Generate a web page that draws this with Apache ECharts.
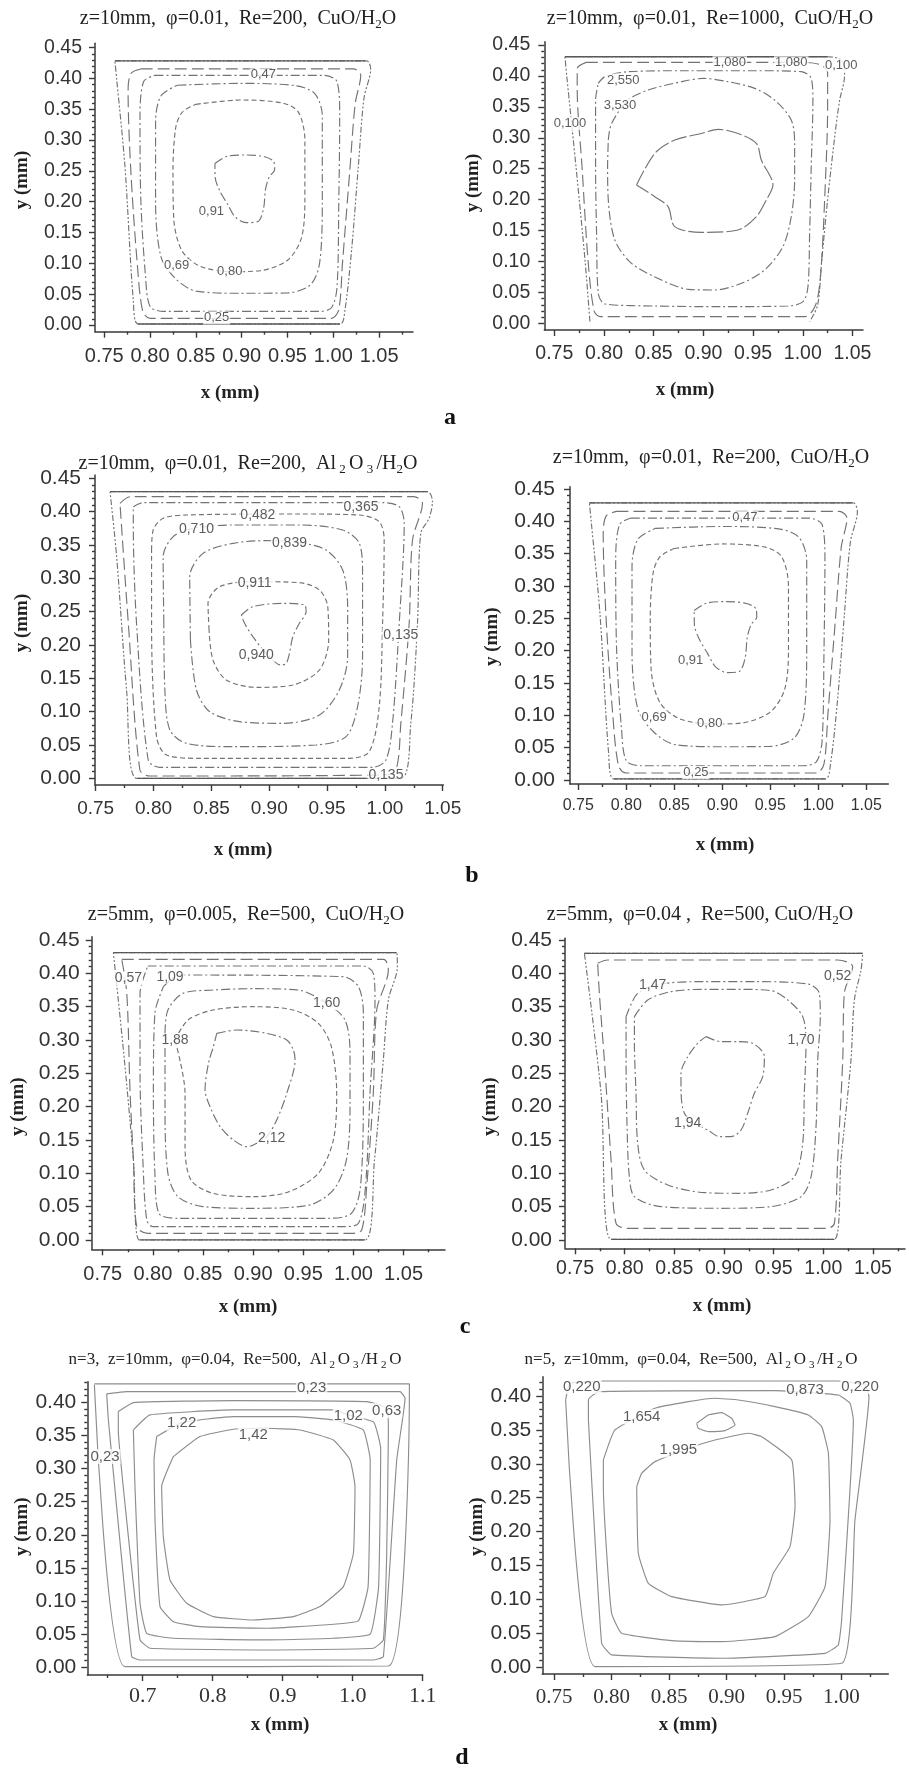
<!DOCTYPE html>
<html><head><meta charset="utf-8">
<script src="https://cdn.jsdelivr.net/npm/echarts@6.0.0/dist/echarts.min.js"></script>
<style>html,body{margin:0;padding:0;background:#fff}#chart{width:909px;height:1768px}</style>
</head><body><div id="chart"></div>
<script>
// ---------------- DATA (x mm, y mm) ----------------
// Tick labels
const X_TICKS_A = [0.75, 0.80, 0.85, 0.90, 0.95, 1.00, 1.05];
const X_TICKS_N5 = [0.75, 0.80, 0.85, 0.90, 0.95, 1.00];
const X_TICKS_N3 = [0.7, 0.8, 0.9, 1.0, 1.1];
const Y_TICKS_45 = [0.00, 0.05, 0.10, 0.15, 0.20, 0.25, 0.30, 0.35, 0.40, 0.45];
const Y_TICKS_40 = [0.00, 0.05, 0.10, 0.15, 0.20, 0.25, 0.30, 0.35, 0.40];

// Panel: z=10mm, phi=0.01, Re=200, CuO/H2O (a-left and b-right)
const cuo200_wallTop = [[0.7616,0.4284],[1.0364,0.4284]];
const cuo200_wallBottom = [[0.7871,0.0016],[1.0073,0.0016]];
const cuo200_c1 = [[0.7616,0.4284],[1.0364,0.4284],[1.0408,0.415],[1.0335,0.368],[1.0273,0.257],[1.020,0.122],[1.0127,0.024],[1.0073,0.0016],[0.7871,0.0016],[0.7817,0.04],[0.7726,0.257],[0.7635,0.40],[0.7616,0.4284]];
const cuo200_c025 = [[0.790,0.4154],[1.022,0.4154],[1.030,0.405],[1.024,0.36],[1.018,0.25],[1.010,0.10],[1.006,0.025],[0.998,0.0108],[0.800,0.0108],[0.792,0.022],[0.786,0.10],[0.779,0.25],[0.776,0.38],[0.779,0.408],[0.790,0.4154]];
const cuo200_c047 = [[0.805,0.405],[0.990,0.405],[1.004,0.395],[1.007,0.34],[1.006,0.20],[1.004,0.06],[0.998,0.028],[0.985,0.022],[0.815,0.022],[0.800,0.03],[0.795,0.08],[0.790,0.20],[0.789,0.34],[0.793,0.395],[0.805,0.405]];
const cuo200_c069 = [[0.830,0.389],[0.900,0.392],[0.960,0.388],[0.980,0.375],[0.988,0.34],[0.988,0.20],[0.985,0.10],[0.975,0.065],[0.950,0.052],[0.900,0.0514],[0.850,0.055],[0.828,0.075],[0.812,0.11],[0.806,0.20],[0.806,0.33],[0.812,0.372],[0.830,0.389]];
const cuo200_c080 = [[0.850,0.358],[0.900,0.365],[0.945,0.360],[0.962,0.345],[0.969,0.300],[0.969,0.200],[0.965,0.140],[0.950,0.105],[0.920,0.088],[0.890,0.0865],[0.855,0.095],[0.835,0.120],[0.826,0.170],[0.825,0.250],[0.828,0.320],[0.835,0.345],[0.850,0.358]];
const cuo200_c091 = [[0.8708,0.262],[0.885,0.274],[0.905,0.2758],[0.925,0.273],[0.935,0.265],[0.936,0.252],[0.930,0.240],[0.926,0.220],[0.924,0.190],[0.918,0.168],[0.905,0.166],[0.893,0.175],[0.885,0.195],[0.876,0.218],[0.871,0.240],[0.8708,0.262]];
const cuo200_labels = [[0.9236,0.4057,'0,47'],[0.8726,0.0115,'0,25'],[0.829,0.0960,'0,69'],[0.887,0.0875,'0,80'],[0.867,0.185,'0,91']];

// Panel: z=10mm, phi=0.01, Re=1000, CuO/H2O
const cuo1000_wallTop = [[0.7607,0.4311],[1.025,0.4311]];
const cuo1000_c0100 = [[0.7858,0.003],[0.781,0.10],[0.772,0.25],[0.7625,0.40],[0.7607,0.4311],[1.025,0.4311],[1.040,0.424],[1.042,0.40],[1.037,0.36],[1.032,0.30],[1.025,0.20],[1.019,0.10],[1.015,0.03],[1.007,0.003]];
const cuo1000_c1080 = [[0.782,0.422],[1.000,0.422],[1.018,0.418],[1.025,0.405],[1.025,0.35],[1.022,0.20],[1.018,0.08],[1.013,0.03],[1.002,0.0108],[0.796,0.0108],[0.790,0.02],[0.784,0.10],[0.778,0.25],[0.773,0.38],[0.773,0.412],[0.782,0.422]];
const cuo1000_c2550 = [[0.7942,0.388],[0.8009,0.3988],[0.8243,0.4069],[0.8846,0.4085],[0.9516,0.4085],[0.9985,0.4069],[1.0085,0.3961],[1.0102,0.3611],[1.0085,0.2533],[1.0069,0.1455],[1.0052,0.0593],[1.0002,0.035],[0.9851,0.028],[0.9181,0.0269],[0.8511,0.028],[0.8009,0.0313],[0.7942,0.0485],[0.7925,0.1455],[0.7915,0.2533],[0.7915,0.3611],[0.7942,0.388]];
const cuo1000_c3530 = [[0.8043,0.2964],[0.8076,0.3233],[0.8243,0.361],[0.8444,0.3772],[0.8779,0.3907],[0.8997,0.3961],[0.9248,0.3907],[0.9516,0.3799],[0.9717,0.361],[0.9884,0.3287],[0.9918,0.291],[0.9918,0.2533],[0.9918,0.2317],[0.9884,0.1724],[0.98,0.124],[0.9616,0.0862],[0.9382,0.0647],[0.9114,0.0539],[0.8846,0.055],[0.8578,0.0701],[0.8277,0.097],[0.8109,0.1347],[0.8043,0.1994],[0.8036,0.2533],[0.8043,0.2964]];
const cuo1000_cIn = [[0.8327,0.2236],[0.8511,0.2748],[0.8712,0.2964],[0.898,0.307],[0.915,0.3137],[0.9349,0.307],[0.9533,0.291],[0.9583,0.264],[0.970,0.2236],[0.9633,0.1994],[0.9533,0.1724],[0.9349,0.1509],[0.898,0.147],[0.8712,0.1563],[0.8645,0.1886],[0.8511,0.2048],[0.8327,0.2236]];
const cuo1000_labels = [[0.9265,0.4214,'1,080'],[0.9884,0.4214,'1,080'],[1.0387,0.4177,'0,100'],[0.7657,0.3233,'0,100'],[0.8193,0.3934,'2,550'],[0.816,0.353,'3,530']];

// Panel: z=10mm, phi=0.01, Re=200, Al2O3/H2O
const al200_wallTop = [[0.7624,0.43],[1.0368,0.43]];
const al200_wallBottom = [[0.7853,0.0],[1.0138,0.0]];
const al200_c1 = [[0.7624,0.43],[1.0368,0.43],[1.0411,0.415],[1.0382,0.39],[1.031,0.3675],[1.0282,0.2325],[1.0224,0.0825],[1.0138,0.0],[0.7853,0.0],[0.7767,0.1325],[0.7681,0.3325],[0.7624,0.43]];
const al200_c0135 = [[0.771,0.4125],[0.780,0.4225],[1.025,0.4225],[1.0325,0.4125],[1.0239,0.3575],[1.021,0.2325],[1.0138,0.0825],[1.0095,0.0125],[0.998,0.005],[0.7968,0.0035],[0.7882,0.0125],[0.7782,0.2325],[0.771,0.4125]];
const al200_c0365 = [[0.7825,0.4075],[0.7911,0.4135],[0.998,0.4135],[1.0124,0.4075],[1.0167,0.3825],[1.0124,0.2325],[1.0066,0.0825],[1.0009,0.0275],[0.9894,0.0165],[0.8055,0.0165],[0.7954,0.0275],[0.7853,0.2325],[0.7825,0.3825],[0.7825,0.4075]];
const al200_c0482 = [[0.7983,0.3425],[0.7997,0.3725],[0.8083,0.39],[0.8284,0.395],[0.9261,0.3965],[0.9779,0.395],[0.9951,0.385],[0.9994,0.3575],[0.998,0.2325],[0.9951,0.1075],[0.9865,0.04],[0.9693,0.03],[0.8399,0.03],[0.8112,0.035],[0.8026,0.0625],[0.7983,0.2325],[0.7983,0.3425]];
const al200_c0710 = [[0.8089,0.2325],[0.8083,0.3325],[0.817,0.3625],[0.8342,0.375],[0.8687,0.38],[0.9261,0.38],[0.9635,0.3725],[0.9779,0.3525],[0.9807,0.3075],[0.9807,0.1825],[0.9764,0.1075],[0.9664,0.0625],[0.9405,0.05],[0.8687,0.0475],[0.8284,0.0525],[0.8141,0.0725],[0.8098,0.1325],[0.8089,0.2325]];
const al200_c0839 = [[0.8319,0.2075],[0.8313,0.3025],[0.8428,0.3375],[0.8687,0.3525],[0.8974,0.3565],[0.9261,0.3535],[0.9491,0.3425],[0.9635,0.3125],[0.9678,0.2575],[0.9678,0.1825],[0.9606,0.1325],[0.9434,0.095],[0.9118,0.0825],[0.8744,0.085],[0.8486,0.1],[0.8371,0.1325],[0.8319,0.2075]];
const al200_c0911 = [[0.848,0.2225],[0.8471,0.2625],[0.8572,0.2875],[0.8859,0.295],[0.9261,0.2935],[0.9434,0.2825],[0.9506,0.2575],[0.9514,0.2075],[0.9434,0.1625],[0.9204,0.14],[0.8888,0.1365],[0.8629,0.1475],[0.8514,0.1775],[0.848,0.2225]];
const al200_c0940 = [[0.8759,0.245],[0.8859,0.2575],[0.9118,0.2625],[0.9305,0.26],[0.9319,0.25],[0.9261,0.2325],[0.9204,0.2125],[0.9175,0.1875],[0.9147,0.1725],[0.9103,0.17],[0.8974,0.1875],[0.8859,0.2125],[0.8787,0.2325],[0.8759,0.245]];
const al200_labels = [[0.9793,0.4075,'0,365'],[0.8902,0.395,'0,482'],[0.8371,0.3735,'0,710'],[0.9175,0.3525,'0,839'],[0.8874,0.2935,'0,911'],[0.8888,0.185,'0,940'],[1.0138,0.215,'0,135'],[1.0009,0.005,'0,135']];

// Panel: z=5mm, phi=0.005, Re=500, CuO/H2O
const cuo500a_wallTop = [[0.7606,0.431],[1.0431,0.431]];
const cuo500a_wallBottom = [[0.7866,0.0],[1.0115,0.0]];
const cuo500a_c1 = [[0.7606,0.431],[1.0431,0.431],[1.0438,0.41],[1.0348,0.36],[1.0298,0.27],[1.021,0.12],[1.0115,0.0],[0.7866,0.0],[0.7806,0.12],[0.7716,0.27],[0.7606,0.431]];
const cuo500a_c057 = [[0.769,0.421],[1.030,0.421],[1.0348,0.405],[1.0232,0.345],[1.0198,0.22],[1.0132,0.08],[1.0082,0.015],[0.998,0.01],[0.795,0.01],[0.7839,0.02],[0.7806,0.12],[0.7773,0.22],[0.774,0.37],[0.769,0.421]];
const cuo500a_cX = [[0.795,0.411],[1.010,0.411],[1.0198,0.40],[1.0215,0.36],[1.0165,0.22],[1.012,0.08],[1.005,0.025],[0.99,0.02],[0.80,0.02],[0.7939,0.03],[0.790,0.12],[0.7872,0.25],[0.7872,0.37],[0.795,0.411]];
const cuo500a_c109 = [[0.8105,0.38],[0.8271,0.3975],[0.99,0.395],[1.005,0.38],[1.0099,0.34],[1.0099,0.22],[1.007,0.08],[0.998,0.04],[0.975,0.0325],[0.825,0.0325],[0.806,0.04],[0.802,0.10],[0.8005,0.22],[0.802,0.34],[0.8105,0.38]];
const cuo500a_c160 = [[0.8121,0.31],[0.815,0.345],[0.830,0.37],[0.860,0.375],[0.90,0.377],[0.945,0.375],[0.9733,0.355],[0.9916,0.33],[0.9966,0.28],[0.9966,0.20],[0.993,0.12],[0.980,0.075],[0.955,0.052],[0.90,0.0475],[0.850,0.05],[0.825,0.065],[0.815,0.10],[0.8121,0.20],[0.8121,0.31]];
const cuo500a_c188 = [[0.8221,0.30],[0.835,0.33],[0.860,0.345],[0.90,0.35],[0.94,0.345],[0.965,0.325],[0.978,0.29],[0.9833,0.22],[0.98,0.15],[0.965,0.10],[0.935,0.072],[0.90,0.065],[0.86,0.07],[0.838,0.09],[0.8321,0.14],[0.8321,0.22],[0.8221,0.30]];
const cuo500a_c212 = [[0.8637,0.31],[0.8836,0.315],[0.9135,0.31],[0.9335,0.30],[0.9401,0.285],[0.9418,0.27],[0.9335,0.22],[0.9235,0.18],[0.9135,0.155],[0.9002,0.1425],[0.8936,0.14],[0.8803,0.15],[0.867,0.17],[0.857,0.20],[0.852,0.225],[0.8554,0.265],[0.8603,0.29],[0.8637,0.31]];
const cuo500a_labels = [[0.7756,0.3925,'0,57'],[0.8171,0.395,'1,09'],[0.9733,0.355,'1,60'],[0.8221,0.30,'1,88'],[0.9185,0.1525,'2,12']];

// Panel: z=5mm, phi=0.04, Re=500, CuO/H2O
const cuo500b_wallTop = [[0.7594,0.43],[1.0397,0.43]];
const cuo500b_wallBottom = [[0.7863,0.001],[1.0112,0.001]];
const cuo500b_c1 = [[0.7594,0.43],[1.0397,0.43],[1.038,0.405],[1.0313,0.36],[1.0279,0.27],[1.0179,0.12],[1.0112,0.001],[0.7863,0.001],[0.7762,0.22],[0.7594,0.43]];
const cuo500b_c052 = [[0.7728,0.415],[0.7829,0.42],[1.0145,0.42],[1.0296,0.41],[1.0212,0.37],[1.0196,0.27],[1.0145,0.12],[1.0112,0.025],[1.0045,0.0175],[0.803,0.0175],[0.7913,0.025],[0.7863,0.12],[0.7795,0.27],[0.7745,0.37],[0.7728,0.415]];
const cuo500b_c147 = [[0.8014,0.335],[0.8131,0.37],[0.8366,0.384],[0.8802,0.3875],[0.9306,0.3875],[0.9843,0.384],[0.996,0.37],[0.997,0.335],[0.9944,0.27],[0.9927,0.17],[0.9877,0.095],[0.9776,0.065],[0.9474,0.05],[0.897,0.0475],[0.8366,0.05],[0.8098,0.065],[0.8047,0.095],[0.8024,0.17],[0.8014,0.27],[0.8014,0.335]];
const cuo500b_c170 = [[0.8098,0.335],[0.8232,0.36],[0.8467,0.3725],[0.8802,0.376],[0.9138,0.376],[0.9474,0.374],[0.9642,0.36],[0.9793,0.335],[0.9826,0.295],[0.9809,0.22],[0.9793,0.145],[0.9709,0.095],[0.9474,0.075],[0.9138,0.07],[0.8802,0.071],[0.8433,0.0825],[0.8198,0.105],[0.8131,0.145],[0.8114,0.22],[0.8098,0.295],[0.8098,0.335]];
const cuo500b_c194 = [[0.8819,0.305],[0.897,0.2975],[0.9138,0.2975],[0.9289,0.295],[0.9407,0.275],[0.939,0.245],[0.9306,0.22],[0.9239,0.19],[0.9172,0.165],[0.9071,0.155],[0.8954,0.155],[0.8836,0.165],[0.8702,0.175],[0.8601,0.19],[0.8567,0.225],[0.8567,0.25],[0.8635,0.275],[0.8735,0.295],[0.8819,0.305]];
const cuo500b_labels = [[0.8282,0.3825,'1,47'],[1.0145,0.395,'0,52'],[0.9776,0.30,'1,70'],[0.8635,0.175,'1,94']];

// Panel: n=3, z=10mm, phi=0.04, Re=500, Al2O3/H2O
const n3_l1 = [[0.631,0.4277],[1.081,0.4277],[1.081,0.4211],[1.051,0.002],[0.6748,0.001],[0.631,0.4262]];
const n3_l023 = [[0.6486,0.4126],[0.6771,0.4161],[1.0676,0.4161],[1.0748,0.406],[1.0629,0.313],[1.0438,0.0161],[1.0295,0.0111],[0.6962,0.0111],[0.6843,0.0161],[0.651,0.3733],[0.6486,0.4126]];
const n3_l063 = [[0.6652,0.3859],[0.6867,0.3995],[0.8295,0.4025],[1.02,0.401],[1.0486,0.391],[1.051,0.3582],[1.0486,0.1721],[1.0438,0.0413],[1.0295,0.0287],[0.8771,0.0262],[0.7105,0.0287],[0.6962,0.0413],[0.6771,0.2224],[0.6652,0.3582],[0.6652,0.3859]];
const n3_l102 = [[0.6867,0.3582],[0.7105,0.3809],[0.8295,0.3884],[0.9724,0.3884],[0.9938,0.3809],[1.03,0.37],[1.04,0.33],[1.037,0.1218],[1.025,0.05],[0.9724,0.0438],[0.8771,0.0413],[0.7438,0.0438],[0.7057,0.0513],[0.6962,0.0966],[0.689,0.2727],[0.6867,0.3582]];
const n3_l122 = [[0.72,0.3482],[0.7557,0.3693],[0.8295,0.3784],[0.9152,0.3784],[0.9724,0.3733],[1.015,0.3582],[1.025,0.313],[1.022,0.1218],[1.008,0.07],[0.9581,0.0639],[0.8771,0.0589],[0.7819,0.0614],[0.7438,0.0689],[0.7248,0.0916],[0.7176,0.2224],[0.7162,0.313],[0.72,0.3482]];
const n3_l142 = [[0.7438,0.318],[0.7819,0.3482],[0.8295,0.3592],[0.8771,0.3608],[0.9248,0.3582],[0.9724,0.3431],[0.9962,0.313],[1.0033,0.2727],[1.001,0.1721],[0.9867,0.1218],[0.9533,0.0916],[0.9152,0.0765],[0.8581,0.0714],[0.801,0.0765],[0.7629,0.0966],[0.739,0.1318],[0.7295,0.1972],[0.7271,0.2727],[0.7438,0.318]];
const n3_labels = [[0.9414,0.4211,'0,23'],[0.6462,0.318,'0,23'],[1.0486,0.3874,'0,63'],[0.9938,0.3794,'1,02'],[0.7557,0.3683,'1,22'],[0.8581,0.3507,'1,42']];

// Panel: n=5, z=10mm, phi=0.04, Re=500, Al2O3/H2O
const n5_l0220 = [[0.7601,0.3941],[0.7639,0.4187],[0.7914,0.4221],[0.9972,0.4221],[1.0204,0.4162],[1.0239,0.399],[1.0117,0.2172],[1.0001,0.0059],[0.7857,0.001],[0.7601,0.3941]];
const n5_l0873 = [[0.7799,0.3646],[0.7799,0.3946],[0.7886,0.4064],[0.9422,0.4079],[0.9972,0.4015],[1.0074,0.3892],[1.0103,0.3646],[1.0001,0.0698],[0.9972,0.0329],[0.9857,0.0206],[0.8958,0.0133],[0.8001,0.0182],[0.7914,0.0354],[0.7799,0.3646]];
const n5_l1654 = [[0.7929,0.3057],[0.8030,0.3499],[0.8378,0.3818],[0.8668,0.3916],[0.89,0.3966],[0.9103,0.3941],[0.9422,0.3843],[0.9712,0.372],[0.9828,0.3548],[0.9886,0.3155],[0.99,0.2172],[0.9857,0.1189],[0.9712,0.0747],[0.9422,0.0452],[0.8958,0.0378],[0.8523,0.0393],[0.8088,0.0501],[0.8001,0.0796],[0.7958,0.1681],[0.7929,0.2663],[0.7929,0.3057]];
const n5_lTop = [[0.8741,0.3597],[0.8842,0.372],[0.8958,0.3754],[0.9045,0.3671],[0.9074,0.3572],[0.8987,0.3489],[0.8842,0.3474],[0.8755,0.3523],[0.8741,0.3597]];
const n5_l1995 = [[0.8219,0.2663],[0.8233,0.1681],[0.832,0.1238],[0.8523,0.1042],[0.8958,0.0919],[0.9335,0.1042],[0.9407,0.1386],[0.9552,0.1779],[0.9596,0.2369],[0.9567,0.3057],[0.9306,0.34],[0.919,0.345],[0.89,0.3351],[0.8668,0.3229],[0.8378,0.3032],[0.8262,0.286],[0.8219,0.2663]];
const n5_labels = [[0.7741,0.4138,'0,220'],[0.9683,0.4088,'0,873'],[1.0161,0.4138,'0,220'],[0.8262,0.3695,'1,654'],[0.8581,0.3204,'1,995']];

// ---------------- LAYOUT / STYLE ----------------
const SANS = '"Liberation Sans", Arial, sans-serif';
const SERIF = '"Liberation Serif", "Times New Roman", serif';
const DASH = { dd:[6,2,2,2,2,2], ld:[12,5], da:[9,3,2,3], sd:[5,3], lo:[16,3], so:'solid' };
const GRAY = '#737373', LGRAY = '#8d8d8d';

const PANELS = [
  { grid:[95,43.3,318,288.4], x:[0.7399,1.087], y:[-0.0109,0.457], xt:X_TICKS_A, xd:2, xstep:0.025, yt:Y_TICKS_45,
    xfs:20, yfs:19.5, xff:SANS, xm:15, ym:13, lfs:13, color:GRAY,
    walls:[cuo200_wallTop, cuo200_wallBottom],
    lines:[[cuo200_c1,'dd'],[cuo200_c025,'ld'],[cuo200_c047,'da'],[cuo200_c069,'da'],[cuo200_c080,'sd'],[cuo200_c091,'da']], labels:cuo200_labels,
    title:{x:238,y:19,fs:20,text:'{t|z=10mm,  φ=0.01,  Re=200,  CuO/H}{s|2}{t|O}'}, xname:[230,393], yname:[21.7,180] },
  { grid:[544.3,41.7,318.7,288.3], x:[0.7399,1.0606], y:[-0.0108,0.4554], xt:X_TICKS_A, xd:2, xstep:0.025, yt:Y_TICKS_45,
    xfs:19.5, yfs:19.5, xff:SANS, xm:14, ym:14, lfs:13, color:GRAY,
    walls:[cuo1000_wallTop],
    lines:[[cuo1000_c0100,'dd'],[cuo1000_c1080,'ld'],[cuo1000_c2550,'da'],[cuo1000_c3530,'da'],[cuo1000_cIn,'lo']], labels:cuo1000_labels,
    title:{x:710,y:19,fs:20,text:'{t|z=10mm,  φ=0.01,  Re=1000,  CuO/H}{s|2}{t|O}'}, xname:[685,390], yname:[473.3,183] },
  { grid:[95,475,348.3,310], x:[0.7494,1.0505], y:[-0.010,0.455], xt:X_TICKS_A, xd:2, xstep:0.025, yt:Y_TICKS_45,
    xfs:19, yfs:21, xff:SANS, xm:14, ym:14, lfs:14, color:GRAY,
    walls:[al200_wallTop, al200_wallBottom],
    lines:[[al200_c1,'dd'],[al200_c0135,'ld'],[al200_c0365,'da'],[al200_c0482,'sd'],[al200_c0710,'da'],[al200_c0839,'da'],[al200_c0911,'sd'],[al200_c0940,'da']], labels:al200_labels,
    title:{x:248,y:464,fs:20,text:'{t|z=10mm,  φ=0.01,  Re=200,  Al}{s| 2 }{t|O}{s| 3 }{t|/H}{s|2}{t|O}'}, xname:[243,850], yname:[21.7,623] },
  { grid:[570,486.7,318.3,297.3], x:[0.7414,1.073], y:[-0.0062,0.4535], xt:X_TICKS_A, xd:2, xstep:0.025, yt:Y_TICKS_45,
    xfs:16, yfs:21, xff:SANS, xm:14, ym:15, lfs:13, color:GRAY,
    walls:[cuo200_wallTop, cuo200_wallBottom],
    lines:[[cuo200_c1,'dd'],[cuo200_c025,'ld'],[cuo200_c047,'da'],[cuo200_c069,'da'],[cuo200_c080,'sd'],[cuo200_c091,'da']], labels:cuo200_labels,
    title:{x:711,y:458,fs:20,text:'{t|z=10mm,  φ=0.01,  Re=200,  CuO/H}{s|2}{t|O}'}, xname:[725,845], yname:[491.7,636.7] },
  { grid:[91.7,936.7,353.3,312.6], x:[0.739,1.0913], y:[-0.014,0.455], xt:X_TICKS_A, xd:2, xstep:0.025, yt:Y_TICKS_45,
    xfs:20, yfs:21, xff:SANS, xm:15, ym:12, lfs:14, color:GRAY,
    walls:[cuo500a_wallTop, cuo500a_wallBottom],
    lines:[[cuo500a_c1,'dd'],[cuo500a_c057,'ld'],[cuo500a_cX,'da'],[cuo500a_c109,'da'],[cuo500a_c160,'da'],[cuo500a_c188,'sd'],[cuo500a_c212,'da']], labels:cuo500a_labels,
    title:{x:246,y:915,fs:20,text:'{t|z=5mm,  φ=0.005,  Re=500,  CuO/H}{s|2}{t|O}'}, xname:[248,1307], yname:[18.3,1106.7] },
  { grid:[565,938.3,340,310], x:[0.7399,1.0823], y:[-0.0125,0.4525], xt:X_TICKS_A, xd:2, xstep:0.025, yt:Y_TICKS_45,
    xfs:19.5, yfs:21, xff:SANS, xm:10, ym:13, lfs:14, color:GRAY,
    walls:[cuo500b_wallTop, cuo500b_wallBottom],
    lines:[[cuo500b_c1,'dd'],[cuo500b_c052,'ld'],[cuo500b_c147,'da'],[cuo500b_c170,'da'],[cuo500b_c194,'da']], labels:cuo500b_labels,
    title:{x:700,y:915,fs:20,text:'{t|z=5mm,  φ=0.04 ,  Re=500, CuO/H}{s|2}{t|O}'}, xname:[722,1306], yname:[490,1106.7] },
  { grid:[87.3,1381.7,335.4,293.3], x:[0.6209,1.1], y:[-0.0116,0.431], xt:X_TICKS_N3, xd:1, xstep:0.05, yt:Y_TICKS_40,
    xfs:22, yfs:21, xff:SERIF, xm:10, ym:11, lfs:15, color:LGRAY,
    walls:[],
    lines:[[n3_l1,'so'],[n3_l023,'so'],[n3_l063,'so'],[n3_l102,'so'],[n3_l122,'so'],[n3_l142,'so']], labels:n3_labels,
    title:{x:235,y:1360,fs:17,text:'{t|n=3,  z=10mm,  φ=0.04,  Re=500,  Al}{s| 2 }{t|O}{s| 3 }{t|/H}{s| 2 }{t|O}'}, xname:[280,1725], yname:[21.7,1526.7] },
  { grid:[542.3,1376.7,346,297.3], x:[0.7398,1.0407], y:[-0.0099,0.4284], xt:X_TICKS_N5, xd:2, xstep:0.025, yt:Y_TICKS_40,
    xfs:21, yfs:21, xff:SERIF, xm:13, ym:11, lfs:15, color:LGRAY,
    walls:[],
    lines:[[n5_l0220,'so'],[n5_l0873,'so'],[n5_l1654,'so'],[n5_lTop,'so'],[n5_l1995,'so']], labels:n5_labels,
    title:{x:691,y:1360,fs:17,text:'{t|n=5,  z=10mm,  φ=0.04,  Re=500,  Al}{s| 2 }{t|O}{s| 3 }{t|/H}{s| 2 }{t|O}'}, xname:[688,1725], yname:[476.7,1526.7] }
];
const LETTERS = [['a',450,418],['b',472,876],['c',465,1327],['d',462,1758]];

function minors(min, max, step, majors, lo) {
  const out = [];
  for (let k = Math.ceil(min / step - 1e-9); k * step <= max + 1e-9; k++) {
    const v = +(k * step).toFixed(4);
    if (v < lo - 1e-9) continue;
    if (!majors.some(m => Math.abs(m - v) < 1e-6)) out.push(v);
  }
  return out;
}

const grids = [], xAxes = [], yAxes = [], series = [], graphics = [];
const AX = '#3a3a3a';
PANELS.forEach((p, i) => {
  grids.push({ left:p.grid[0], top:p.grid[1], width:p.grid[2], height:p.grid[3], containLabel:false });
  const tickStyle = { color:AX, width:1.4 };
  xAxes.push({ gridIndex:i, type:'value', position:'bottom', min:p.x[0], max:p.x[1],
    axisLine:{ show:true, onZero:false, lineStyle:{ color:AX, width:1.5 } },
    axisTick:{ show:true, inside:false, length:6, customValues:p.xt, lineStyle:tickStyle },
    axisLabel:{ show:true, customValues:p.xt, formatter:v => (+v).toFixed(p.xd), fontSize:p.xfs, fontFamily:p.xff, color:'#333', margin:p.xm, hideOverlap:false },
    splitLine:{ show:false } });
  xAxes.push({ gridIndex:i, type:'value', position:'bottom', min:p.x[0], max:p.x[1],
    axisLine:{ show:false, onZero:false },
    axisTick:{ show:true, inside:false, length:3, customValues:minors(p.x[0], p.x[1], p.xstep, p.xt, -1), lineStyle:tickStyle },
    axisLabel:{ show:false }, splitLine:{ show:false } });
  yAxes.push({ gridIndex:i, type:'value', position:'left', min:p.y[0], max:p.y[1],
    axisLine:{ show:true, onZero:false, lineStyle:{ color:AX, width:1.5 } },
    axisTick:{ show:true, inside:false, length:6, customValues:p.yt, lineStyle:tickStyle },
    axisLabel:{ show:true, customValues:p.yt, formatter:v => (+v).toFixed(2), fontSize:p.yfs, fontFamily:SANS, color:'#333', margin:p.ym, hideOverlap:false },
    splitLine:{ show:false } });
  yAxes.push({ gridIndex:i, type:'value', position:'left', min:p.y[0], max:p.y[1],
    axisLine:{ show:false, onZero:false },
    axisTick:{ show:true, inside:false, length:3, customValues:minors(p.y[0], p.y[1], 0.01, p.yt, 0), lineStyle:tickStyle },
    axisLabel:{ show:false }, splitLine:{ show:false } });
  const xi = 2 * i, yi = 2 * i;
  p.lines.forEach(([d, s]) => {
    series.push({ type:'line', xAxisIndex:xi, yAxisIndex:yi, data:d, symbol:'none', showSymbol:false,
      smooth: s === 'so' ? 0.12 : 0.3, silent:true, animation:false, z:2,
      lineStyle:{ color:p.color, width:1.15, type:DASH[s] } });
  });
  p.walls.forEach(d => {
    series.push({ type:'line', xAxisIndex:xi, yAxisIndex:yi, data:d, symbol:'none', showSymbol:false,
      silent:true, animation:false, z:3, lineStyle:{ color:'#595959', width:1.3, type:'solid' } });
  });
  series.push({ type:'scatter', xAxisIndex:xi, yAxisIndex:yi, symbolSize:0, silent:true, animation:false, z:6,
    data:p.labels.map(l => ({ value:[l[0], l[1]], name:l[2] })),
    label:{ show:true, position:'inside', formatter:q => q.name, fontSize:p.lfs, fontFamily:SANS, color:'#333',
      backgroundColor:'#fff', padding:[0,1] } });
  graphics.push({ type:'text', x:p.title.x, y:p.title.y, silent:true,
    style:{ text:p.title.text, align:'center', verticalAlign:'middle', fill:'#222',
      rich:{ t:{ fontSize:p.title.fs, fontFamily:SERIF, fill:'#222', lineHeight:p.title.fs + 4 },
             s:{ fontSize:Math.round(p.title.fs * 0.65), fontFamily:SERIF, fill:'#222', verticalAlign:'bottom', lineHeight:12 } } } });
  graphics.push({ type:'text', x:p.xname[0], y:p.xname[1], silent:true,
    style:{ text:'x (mm)', align:'center', verticalAlign:'middle', fill:'#222', fontSize:19, fontWeight:'bold', fontFamily:SERIF } });
  graphics.push({ type:'text', x:p.yname[0], y:p.yname[1], rotation:Math.PI / 2, silent:true,
    style:{ text:'y (mm)', align:'center', verticalAlign:'middle', fill:'#222', fontSize:19, fontWeight:'bold', fontFamily:SERIF } });
});
LETTERS.forEach(([t, x, y]) => graphics.push({ type:'text', x, y, silent:true,
  style:{ text:t, align:'center', verticalAlign:'middle', fill:'#111', fontSize:24, fontWeight:'bold', fontFamily:SERIF } }));

const chart = echarts.init(document.getElementById('chart'), null, { renderer:'canvas' });
chart.setOption({ backgroundColor:'#fff', animation:false, grid:grids, xAxis:xAxes, yAxis:yAxes, series, graphic:graphics });
</script></body></html>
